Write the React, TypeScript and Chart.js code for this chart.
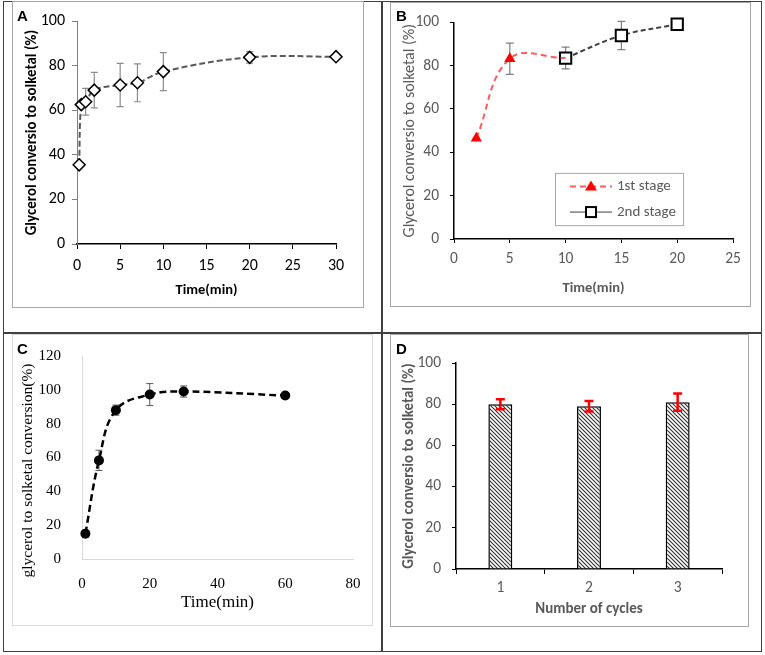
import React, { useEffect, useRef } from 'react';
import { Chart, registerables } from 'chart.js';

Chart.register(...registerables);

// A: conversion vs time
const timeA = [0.25, 0.5, 1, 2, 5, 7, 10, 20, 30];
const convA = [35.5, 62.5, 63.8, 69, 71.3, 72.3, 77.3, 83.7, 84];
const errA = [0, 0, 6, 8, 9.7, 8.5, 8.5, 2.6, 0];

// B: two stages
const timeB1 = [2, 5, 10];
const convB1 = [46.5, 83.2, 83.5];
const errB1 = [0, 7.2, 0];
const timeB2 = [10, 15, 20];
const convB2 = [83.5, 93.9, 99.1];
const errB2 = [5, 6.5, 0];

// C
const timeC = [1, 5, 10, 20, 30, 60];
const convC = [15, 58.3, 88, 97.2, 99, 96.6];
const errC = [0, 6, 3, 6.5, 3.3, 0];

// D: reuse cycles
const cyclesD = ['1', '2', '3'];
const convD = [80, 79, 81];
const errD = [2.4, 2.6, 4.2];

const CALIBRI = 'Carlito, Lato, "Open Sans", sans-serif';
const TIMES = '"Liberation Serif", "DejaVu Serif", serif';

type ErrSpec = { dataset: number; errors: number[]; color: string; width: number; cap: number };

const pts = (xs: number[], ys: number[]) => xs.map((x, i) => ({ x, y: ys[i] }));

function drawErrors(chart: any, specs: ErrSpec[]) {
    const ctx = chart.ctx;
    const yScale = chart.scales.y;
    specs.forEach((s) => {
        const meta = chart.getDatasetMeta(s.dataset);
        const vals = chart.data.datasets[s.dataset].data;
        meta.data.forEach((el: any, i: number) => {
            const e = s.errors[i];
            if (!e) return;
            const v = typeof vals[i] === 'number' ? vals[i] : vals[i].y;
            const top = yScale.getPixelForValue(v + e);
            const bot = yScale.getPixelForValue(v - e);
            ctx.save();
            ctx.strokeStyle = s.color;
            ctx.lineWidth = s.width;
            ctx.setLineDash([]);
            ctx.beginPath();
            ctx.moveTo(el.x, top);
            ctx.lineTo(el.x, bot);
            ctx.moveTo(el.x - s.cap, top);
            ctx.lineTo(el.x + s.cap, top);
            ctx.moveTo(el.x - s.cap, bot);
            ctx.lineTo(el.x + s.cap, bot);
            ctx.stroke();
            ctx.restore();
        });
    });
}

const errorPlugin = (specs: ErrSpec[], front = false) => ({
    id: 'errorBars',
    beforeDatasetsDraw(chart: any) {
        if (!front) drawErrors(chart, specs);
    },
    afterDatasetsDraw(chart: any) {
        if (front) drawErrors(chart, specs);
    },
});

// legend of panel B, drawn inside the plot
const stageLegend = {
    id: 'stageLegend',
    afterDraw(chart: any) {
        const ctx = chart.ctx;
        const { left, top, width, height } = chart.chartArea;
        const bx = left + 0.362 * width;
        const by = top + 0.695 * height;
        const bw = 0.459 * width;
        const bh = 0.241 * height;
        ctx.save();
        ctx.fillStyle = '#fff';
        ctx.fillRect(bx, by, bw, bh);
        ctx.strokeStyle = '#a6a6a6';
        ctx.lineWidth = 1;
        ctx.strokeRect(bx + 0.5, by + 0.5, bw, bh);
        chart.data.datasets.forEach((ds: any, i: number) => {
            const cy = by + bh * (i === 0 ? 0.26 : 0.75);
            const mx = bx + 36;
            ctx.beginPath();
            if (i === 0) {
                ctx.strokeStyle = ds.borderColor;
                ctx.lineWidth = 2;
                ctx.setLineDash(ds.borderDash);
            } else {
                ctx.strokeStyle = '#404040';
                ctx.lineWidth = 1;
                ctx.setLineDash([]);
            }
            ctx.moveTo(bx + 15, cy);
            ctx.lineTo(bx + 57, cy);
            ctx.stroke();
            ctx.setLineDash([]);
            if (i === 0) {
                ctx.fillStyle = ds.pointBackgroundColor;
                ctx.beginPath();
                ctx.moveTo(mx, cy - 6);
                ctx.lineTo(mx + 6, cy + 4);
                ctx.lineTo(mx - 6, cy + 4);
                ctx.closePath();
                ctx.fill();
            } else {
                ctx.fillStyle = '#fff';
                ctx.strokeStyle = '#000';
                ctx.lineWidth = 2;
                ctx.fillRect(mx - 5, cy - 5, 10, 10);
                ctx.strokeRect(mx - 5, cy - 5, 10, 10);
            }
            ctx.fillStyle = '#595959';
            ctx.font = '15px ' + CALIBRI;
            ctx.textBaseline = 'middle';
            ctx.fillText(ds.label, bx + 62, cy);
        });
        ctx.restore();
    },
};

// y title of panel C sits a little below the middle of the axis
const lowYTitle = (text: string, x: number, shift: number, font: string) => ({
    id: 'lowYTitle',
    afterDraw(chart: any) {
        const ctx = chart.ctx;
        const { top, bottom } = chart.chartArea;
        ctx.save();
        ctx.translate(x, (top + bottom) / 2 + shift);
        ctx.rotate(-Math.PI / 2);
        ctx.fillStyle = '#000';
        ctx.font = font;
        ctx.textAlign = 'center';
        ctx.textBaseline = 'middle';
        ctx.fillText(text, 0, 0);
        ctx.restore();
    },
});

function hatch(): CanvasPattern | string {
    const c = document.createElement('canvas');
    c.width = 4;
    c.height = 4;
    const g = c.getContext('2d');
    if (!g) return '#888';
    g.fillStyle = '#fff';
    g.fillRect(0, 0, 4, 4);
    g.strokeStyle = '#303030';
    g.lineWidth = 1.1;
    g.beginPath();
    g.moveTo(-1, -1);
    g.lineTo(5, 5);
    g.moveTo(3, -1);
    g.lineTo(5, 1);
    g.moveTo(-1, 3);
    g.lineTo(1, 5);
    g.stroke();
    return g.createPattern(c, 'repeat') || '#888';
}

const fitW = (w: number) => (s: any) => {
    s.width = w;
};
const fitH = (h: number) => (s: any) => {
    s.height = h;
};

function configA(): any {
    return {
        type: 'scatter',
        data: {
            datasets: [
                {
                    data: pts(timeA, convA),
                    showLine: true,
                    clip: false,
                    borderColor: '#595959',
                    borderWidth: 2,
                    borderDash: [6, 3],
                    tension: 0.4,
                    pointStyle: 'rectRot',
                    pointRadius: 6,
                    pointBorderWidth: 1.5,
                    pointBackgroundColor: '#fff',
                    pointBorderColor: '#000',
                },
            ],
        },
        options: {
            animation: false,
            responsive: false,
            layout: { padding: { top: 20, right: 27, left: 0, bottom: 0 } },
            plugins: { legend: { display: false }, tooltip: { enabled: false } },
            scales: {
                x: {
                    type: 'linear', min: 0, max: 30,
                    ticks: { stepSize: 5, color: '#000', font: { family: CALIBRI, size: 16 }, padding: 7 },
                    grid: { drawOnChartArea: false, tickLength: 5, color: '#000' },
                    border: { color: '#000', width: 1.5 },
                    title: { display: true, text: 'Time(min)', color: '#000', font: { family: CALIBRI, size: 14.5, weight: 'bold' }, padding: { top: 0, bottom: 8 } },
                    afterFit: fitH(63),
                },
                y: {
                    min: 0, max: 100,
                    ticks: { stepSize: 20, color: '#000', font: { family: CALIBRI, size: 16 }, padding: 7 },
                    grid: { drawOnChartArea: false, tickLength: 5, color: '#7f7f7f' },
                    border: { color: '#7f7f7f', width: 1 },
                    title: { display: true, text: 'Glycerol conversio to solketal (%)', color: '#000', font: { family: CALIBRI, size: 15, weight: 'bold' }, padding: { top: 11, bottom: 0 } },
                    afterFit: fitW(65),
                },
            },
        },
        plugins: [errorPlugin([{ dataset: 0, errors: errA, color: '#8c8c8c', width: 1.2, cap: 3.5 }])],
    };
}

function configB(): any {
    return {
        type: 'scatter',
        data: {
            datasets: [
                {
                    label: '1st stage',
                    data: pts(timeB1, convB1),
                    showLine: true,
                    clip: false,
                    borderColor: '#ff5b5b',
                    borderWidth: 2,
                    borderDash: [6, 4],
                    tension: 0.4,
                    pointStyle: 'triangle',
                    pointRadius: [6.5, 6.5, 0],
                    pointBorderWidth: 0,
                    pointBackgroundColor: '#ff0000',
                    pointBorderColor: '#ff0000',
                },
                {
                    label: '2nd stage',
                    data: pts(timeB2, convB2),
                    showLine: true,
                    clip: false,
                    borderColor: '#404040',
                    borderWidth: 2,
                    borderDash: [5, 3],
                    tension: 0.4,
                    pointStyle: 'rect',
                    pointRadius: 8,
                    pointBorderWidth: 2,
                    pointBackgroundColor: '#fff',
                    pointBorderColor: '#000',
                },
            ],
        },
        options: {
            animation: false,
            responsive: false,
            layout: { padding: { top: 17, right: 18, left: 0, bottom: 0 } },
            plugins: { legend: { display: false }, tooltip: { enabled: false } },
            scales: {
                x: {
                    type: 'linear', min: 0, max: 25,
                    ticks: { stepSize: 5, color: '#595959', font: { family: CALIBRI, size: 15.5 }, padding: 7 },
                    grid: { drawOnChartArea: false, tickLength: 4, color: '#000' },
                    border: { color: '#000', width: 1.5 },
                    title: { display: true, text: 'Time(min)', color: '#595959', font: { family: CALIBRI, size: 14.5, weight: 'bold' }, padding: { top: 0, bottom: 9 } },
                    afterFit: fitH(67),
                },
                y: {
                    min: 0, max: 100,
                    ticks: { stepSize: 20, color: '#595959', font: { family: CALIBRI, size: 15.5 }, padding: 11 },
                    grid: { drawOnChartArea: false, tickLength: 4, color: '#000' },
                    border: { color: '#000', width: 1.5 },
                    title: { display: true, text: 'Glycerol conversio to solketal (%)', color: '#595959', font: { family: CALIBRI, size: 16 }, padding: { top: 10, bottom: 0 } },
                    afterFit: fitW(64),
                },
            },
        },
        plugins: [
            errorPlugin([
                { dataset: 0, errors: errB1, color: '#7f7f7f', width: 1.2, cap: 4 },
                { dataset: 1, errors: errB2, color: '#7f7f7f', width: 1.2, cap: 4 },
            ]),
            stageLegend,
        ],
    };
}

function configC(): any {
    return {
        type: 'scatter',
        data: {
            datasets: [
                {
                    data: pts(timeC, convC),
                    showLine: true,
                    clip: false,
                    borderColor: '#000',
                    borderWidth: 2.5,
                    borderDash: [7, 4],
                    tension: 0.4,
                    pointStyle: 'circle',
                    pointRadius: 5,
                    pointBorderWidth: 0,
                    pointBackgroundColor: '#000',
                },
            ],
        },
        options: {
            animation: false,
            responsive: false,
            layout: { padding: { top: 15, right: 19, left: 0, bottom: 0 } },
            plugins: { legend: { display: false }, tooltip: { enabled: false } },
            scales: {
                x: {
                    type: 'linear', min: 0, max: 80,
                    ticks: { stepSize: 20, color: '#000', font: { family: TIMES, size: 15 }, padding: 8 },
                    grid: { display: false },
                    border: { color: '#d9d9d9', width: 1 },
                    title: { display: true, text: 'Time(min)', color: '#000', font: { family: TIMES, size: 17 }, padding: { top: 0, bottom: 12 } },
                    afterFit: fitH(66),
                },
                y: {
                    min: 0, max: 120,
                    ticks: { stepSize: 20, color: '#000', font: { family: TIMES, size: 15 }, padding: 13 },
                    grid: { display: false },
                    border: { color: '#d9d9d9', width: 1 },
                    title: { display: false },
                    afterFit: fitW(70),
                },
            },
        },
        plugins: [
            errorPlugin([{ dataset: 0, errors: errC, color: '#595959', width: 1, cap: 3.5 }]),
            lowYTitle('glycerol to solketal conversion(%)', 16, 13, '15.5px ' + TIMES),
        ],
    };
}

function configD(): any {
    return {
        type: 'bar',
        data: {
            labels: cyclesD,
            datasets: [
                {
                    data: convD,
                    backgroundColor: hatch(),
                    borderColor: '#000',
                    borderWidth: 1.5,
                    barPercentage: 0.27,
                    categoryPercentage: 1,
                },
            ],
        },
        options: {
            animation: false,
            responsive: false,
            layout: { padding: { top: 30, right: 27, left: 0, bottom: 0 } },
            plugins: { legend: { display: false }, tooltip: { enabled: false } },
            scales: {
                x: {
                    ticks: { color: '#595959', font: { family: CALIBRI, size: 15.5 }, padding: 5 },
                    grid: { drawOnChartArea: false, tickLength: 5, color: '#000', offset: true },
                    border: { color: '#000', width: 1.5 },
                    title: { display: true, text: 'Number of cycles', color: '#595959', font: { family: CALIBRI, size: 15, weight: 'bold' }, padding: { top: 0, bottom: 8 } },
                    afterFit: fitH(57),
                },
                y: {
                    min: 0, max: 100,
                    ticks: { stepSize: 20, color: '#595959', font: { family: CALIBRI, size: 15.5 }, padding: 11 },
                    grid: { drawOnChartArea: false, tickLength: 4, color: '#000' },
                    border: { color: '#000', width: 1.5 },
                    title: { display: true, text: 'Glycerol conversio to solketal (%)', color: '#595959', font: { family: CALIBRI, size: 15, weight: 'bold' }, padding: { top: 10, bottom: 0 } },
                    afterFit: fitW(66),
                },
            },
        },
        plugins: [errorPlugin([{ dataset: 0, errors: errD, color: '#ff0000', width: 2.5, cap: 4.5 }], true)],
    };
}

interface PanelProps {
    makeConfig: () => any;
    left: number;
    top: number;
    width: number;
    height: number;
}

const PanelChart: React.FC<PanelProps> = ({ makeConfig, left, top, width, height }) => {
    const canvasRef = useRef<HTMLCanvasElement>(null);

    useEffect(() => {
        if (!canvasRef.current) return;
        const chart = new Chart(canvasRef.current, makeConfig());
        return () => {
            chart.destroy();
        };
    }, [makeConfig]);

    return (
        <canvas
            ref={canvasRef}
            width={width}
            height={height}
            style={{ position: 'absolute', left, top, width, height }}
        />
    );
};

const box = (left: number, top: number, width: number, height: number, color: string): React.CSSProperties => ({
    position: 'absolute',
    left,
    top,
    width,
    height,
    boxSizing: 'border-box',
    border: `1px solid ${color}`,
});

const letter = (left: number, top: number): React.CSSProperties => ({
    position: 'absolute',
    left,
    top,
    font: 'bold 15px "Liberation Sans", Arial, sans-serif',
    lineHeight: '15px',
    color: '#000',
});

const App: React.FC = () => {
    return (
        <div style={{ position: 'fixed', left: 0, top: 0, width: 765, height: 655, background: '#fff', overflow: 'hidden' }}>
            {/* outer frame and dividers */}
            <div style={{ ...box(3, 1, 759, 651, '#404040'), borderWidth: 1.5 }} />
            <div style={{ position: 'absolute', left: 381, top: 1, width: 1.5, height: 651, background: '#404040' }} />
            <div style={{ position: 'absolute', left: 3, top: 332, width: 759, height: 1.5, background: '#404040' }} />

            <div style={box(12, 1, 352, 307, '#a6a6a6')} />
            <div style={box(390, 2, 361, 305, '#a6a6a6')} />
            <div style={box(12, 334, 361, 292, '#d9d9d9')} />
            <div style={box(390, 334, 359, 293, '#a6a6a6')} />

            <PanelChart makeConfig={configA} left={12} top={1} width={351} height={306} />
            <PanelChart makeConfig={configB} left={390} top={2} width={361} height={304} />
            <PanelChart makeConfig={configC} left={12} top={334} width={360} height={291} />
            <PanelChart makeConfig={configD} left={390} top={333} width={359} height={293} />

            <div style={letter(17, 8)}>A</div>
            <div style={letter(396, 8)}>B</div>
            <div style={letter(17, 341)}>C</div>
            <div style={letter(396, 341)}>D</div>
        </div>
    );
};

export default App;
